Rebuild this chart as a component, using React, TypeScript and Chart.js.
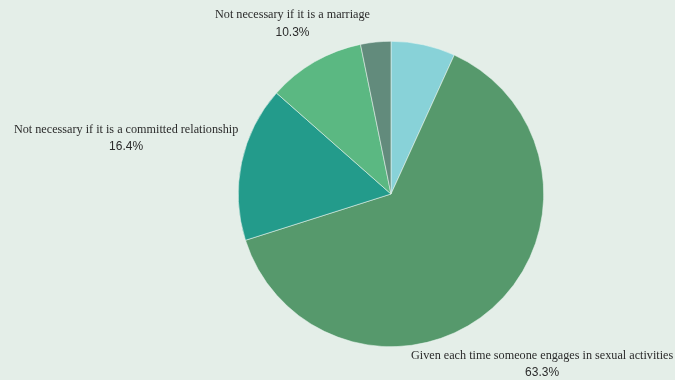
import React, { useEffect, useRef } from "react";
import { Chart, registerables } from "chart.js";

Chart.register(...registerables);

// Survey answers: when should consent be given?
const categories = [
  "Only needed the first time",
  "Given each time someone engages in sexual activities",
  "Not necessary if it is a committed relationship",
  "Not necessary if it is a marriage",
  "Not necessary at all",
];
const shares = [6.8, 63.3, 16.4, 10.3, 3.2];
const sliceColors = ["#88d2d8", "#56996c", "#239b8b", "#5bb882", "#628b7c"];
// only slices at least this large get an outside label
const labelMinShare = 10;

const BG = "#e4eee8";
const NAME_FONT = "12.2px 'Liberation Serif', serif";
const PCT_FONT = "12px 'Liberation Sans', Arial, sans-serif";

const outsideLabels = {
  id: "outsideLabels",
  afterDraw(chart: any) {
    const ctx = chart.ctx;
    const meta = chart.getDatasetMeta(0);
    const H = chart.height;
    const lineH = 17.5;
    meta.data.forEach((arc: any, i: number) => {
      const v = shares[i];
      if (v < labelMinShare) return;
      const p = arc.getProps(["x", "y", "startAngle", "endAngle", "outerRadius"], true);
      const mid = (p.startAngle + p.endAngle) / 2;
      const ux = Math.cos(mid);
      const uy = Math.sin(mid);
      const name = categories[i];
      const pct = v.toFixed(1) + "%";
      ctx.save();
      ctx.font = NAME_FONT;
      const w1 = ctx.measureText(name).width;
      ctx.font = PCT_FONT;
      const w2 = ctx.measureText(pct).width;
      const bw = Math.max(w1, w2);
      const bh = lineH * 2;
      const r = p.outerRadius;
      const rectAt = (R: number) => {
        const cx = p.x + ux * R;
        const cy = p.y + uy * R;
        return { l: cx - bw / 2, r: cx + bw / 2, t: cy - bh / 2, b: cy + bh / 2, cx, cy };
      };
      const hitsPie = (b: any) => {
        const nx = Math.max(b.l, Math.min(p.x, b.r));
        const ny = Math.max(b.t, Math.min(p.y, b.b));
        return Math.hypot(nx - p.x, ny - p.y) < r + 4;
      };
      let R = r * 1.55;
      let box = rectAt(R);
      while (hitsPie(box) && R < r * 4) {
        R += 1;
        box = rectAt(R);
      }
      while ((box.t < 6 || box.b > H + 2) && R > r) {
        R -= 1;
        box = rectAt(R);
      }
      ctx.fillStyle = "#2b2b2b";
      ctx.textAlign = "center";
      ctx.textBaseline = "middle";
      ctx.font = NAME_FONT;
      ctx.fillText(name, box.cx, box.cy - lineH / 2);
      ctx.font = PCT_FONT;
      ctx.fillText(pct, box.cx, box.cy + lineH / 2);
      ctx.restore();
    });
  },
};

export default function App() {
  const ref = useRef<HTMLCanvasElement>(null);
  useEffect(() => {
    document.body.style.margin = "0";
    const chart = new Chart(ref.current!, {
      type: "pie",
      data: {
        labels: categories,
        datasets: [
          {
            data: shares,
            backgroundColor: sliceColors,
            borderColor: "rgba(235,245,240,0.9)",
            borderWidth: 0.6,
          },
        ],
      },
      options: {
        animation: false,
        responsive: false,
        layout: { padding: { left: 238, right: 131, top: 41, bottom: 33 } },
        plugins: {
          legend: { display: false },
          tooltip: { enabled: false },
        },
      },
      plugins: [outsideLabels],
    });
    return () => chart.destroy();
  }, []);
  return (
    <div style={{ width: 675, height: 380, background: BG }}>
      <canvas ref={ref} width={675} height={380} style={{ display: "block" }} />
    </div>
  );
}
